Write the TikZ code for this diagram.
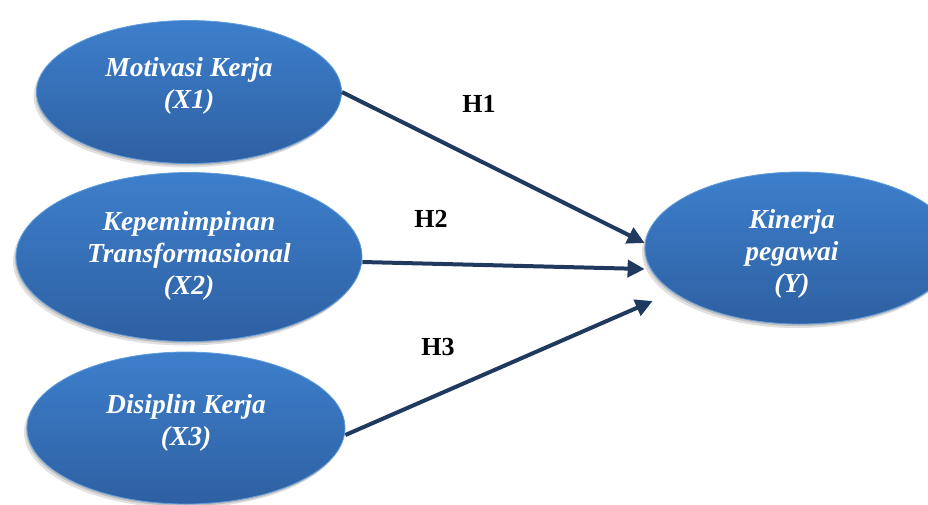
\documentclass[tikz,border=0pt]{standalone}
\usepackage{fontspec}
\setmainfont{Liberation Serif}
\usepackage{xcolor}
\usepackage{tikz}
\usetikzlibrary{arrows.meta,positioning,calc,shapes.geometric,shadows}
\definecolor{cTop}{HTML}{3D7FCC}
\definecolor{cBot}{HTML}{2E60A2}
\definecolor{cRim}{HTML}{7FB6EA}
\definecolor{cArr}{HTML}{1F3A5E}
\tikzset{
  evar/.style={ellipse,top color=cTop,bottom color=cBot,draw=cRim!55!cTop,line width=0.8pt,inner sep=0pt,
    drop shadow={shadow xshift=-3pt,shadow yshift=-4pt,opacity=0.12,fill=black},
    drop shadow={shadow xshift=-1pt,shadow yshift=-2pt,opacity=0.15,fill=black}},
  etxt/.style={align=center,text=white,inner sep=0pt,font=\fontsize{27.5}{32}\selectfont\bfseries\itshape},
  arr/.style={-{Triangle[length=17pt,width=17pt]},line width=4pt,color=cArr},
  hlbl/.style={font=\fontsize{26}{30}\selectfont\bfseries,text=black,inner sep=0pt},
}
\begin{document}
\begin{tikzpicture}[x=1pt,y=-1pt]
  \useasboundingbox (0,0) rectangle (928,504);
  \clip (0,0) rectangle (928,504);
  \node[evar,minimum width=305pt,minimum height=143pt,
    label={[etxt,yshift=6pt]center:Motivasi Kerja\\(X1)}] (x1) at (189,92) {};
  \node[evar,minimum width=346pt,minimum height=169pt,
    label={[etxt,yshift=1pt]center:Kepemimpinan\\Transformasional\\(X2)}] (x2) at (189,257) {};
  \node[evar,minimum width=318pt,minimum height=152pt,
    label={[etxt,yshift=5pt]center:Disiplin Kerja\\(X3)}] (x3) at (186,428) {};
  \node[evar,minimum width=310pt,minimum height=152pt,
    label={[etxt,xshift=-8pt,yshift=-6pt]center:Kinerja\\pegawai\\(Y)}] (y) at (800,248) {};
  % paths H1-H3
  \draw[arr] (x1.east) -- ([yshift=5pt]y.west);
  \draw[arr] ([yshift=-5pt]x2.east) -- ([yshift=-21pt]y.west);
  \draw[arr] ([yshift=-7pt]x3.east) -- ([shift={(8pt,-53pt)}]y.west);
  \node[hlbl] (h1) at (479,104) {H1};
  \node[hlbl] (h2) at (431,219) {H2};
  \node[hlbl] (h3) at (438,347) {H3};
\end{tikzpicture}
\end{document}
